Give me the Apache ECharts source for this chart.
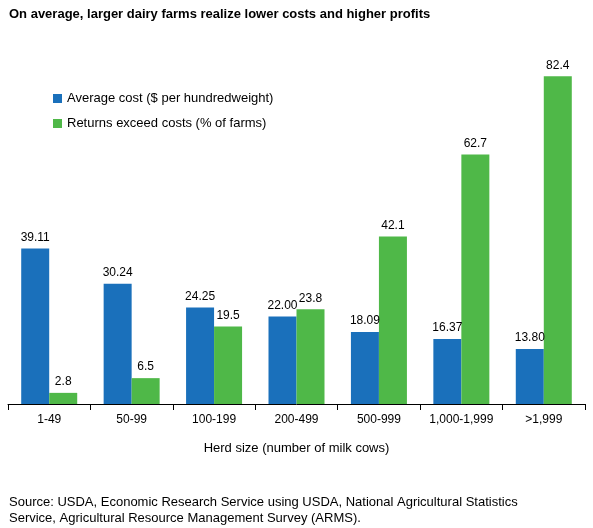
<!DOCTYPE html>
<html><head><meta charset="utf-8">
<script src="https://cdn.jsdelivr.net/npm/echarts@6/dist/echarts.min.js"></script>
<style>html,body{margin:0;padding:0;background:#fff}#c{width:593px;height:528px}</style>
</head><body><div id="c"></div>
<script>
const categories = ['1-49','50-99','100-199','200-499','500-999','1,000-1,999','>1,999'];
const avgCost = [39.11,30.24,24.25,22.00,18.09,16.37,13.80];
const returnsExceed = [2.8,6.5,19.5,23.8,42.1,62.7,82.4];
const costLabels = ['39.11','30.24','24.25','22.00','18.09','16.37','13.80'];
const retLabels = ['2.8','6.5','19.5','23.8','42.1','62.7','82.4'];
const font = 'Liberation Sans, Arial, sans-serif';
const chart = echarts.init(document.getElementById('c'));
chart.setOption({
  animation:false,
  textStyle:{fontFamily:font},
  title:[
    {text:'On average, larger dairy farms realize lower costs and higher profits',left:4,top:3,textStyle:{fontSize:13,fontWeight:'bold',color:'#000',fontFamily:font}},
    {text:'Source: USDA, Economic Research Service using USDA, National Agricultural Statistics\nService, Agricultural Resource Management Survey (ARMS).',left:4,top:489,textStyle:{fontSize:13,fontWeight:'normal',color:'#000',lineHeight:16,fontFamily:font}}
  ],
  legend:{orient:'vertical',left:48,top:87,itemWidth:9,itemHeight:9,itemGap:12,icon:'rect',
    textStyle:{fontSize:13,color:'#000',fontFamily:font},
    data:['Average cost ($ per hundredweight)','Returns exceed costs (% of farms)']},
  grid:{left:8,right:8,top:46,bottom:124},
  xAxis:{type:'category',data:categories,name:'Herd size (number of milk cows)',nameLocation:'middle',nameGap:38,
    nameTextStyle:{fontSize:13,color:'#000'},
    axisLine:{lineStyle:{color:'#000'}},axisTick:{show:true,interval:0,alignWithLabel:false,length:6,lineStyle:{color:'#000'}},
    axisLabel:{interval:0,fontSize:12,color:'#000',margin:10}},
  yAxis:{type:'value',min:0,max:90,show:false,splitLine:{show:false}},
  series:[
    {name:'Average cost ($ per hundredweight)',type:'bar',data:avgCost,barWidth:28,barGap:'0%',
      itemStyle:{color:'#1a70bb'},
      label:{show:true,position:'top',fontSize:12,color:'#000',formatter:p=>costLabels[p.dataIndex]}},
    {name:'Returns exceed costs (% of farms)',type:'bar',data:returnsExceed,barWidth:28,
      itemStyle:{color:'#4fb848'},
      label:{show:true,position:'top',fontSize:12,color:'#000',formatter:p=>retLabels[p.dataIndex]}}
  ]
});
</script></body></html>
